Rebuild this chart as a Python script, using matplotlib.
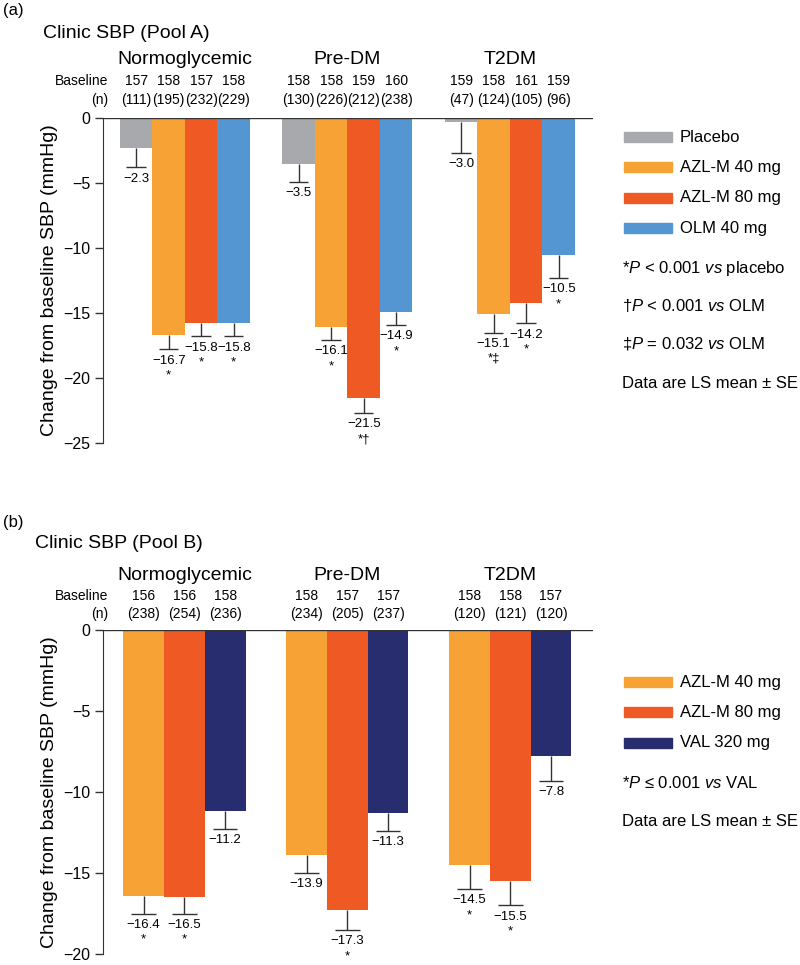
import numpy as np
import matplotlib
matplotlib.use('Agg')
import matplotlib.pyplot as plt
from matplotlib.patches import Rectangle
from matplotlib.transforms import blended_transform_factory

plt.rcParams['font.family'] = ['Liberation Sans', 'DejaVu Sans']
plt.rcParams['mathtext.fontset'] = 'custom'
plt.rcParams['mathtext.it'] = 'Liberation Sans:italic'
plt.rcParams['mathtext.rm'] = 'Liberation Sans'

# colours
gray_c = '#A7A9AC'
orange_c = '#F7A234'
red_c = '#EF5A24'
blue_c = '#5496D2'
navy_c = '#272D6E'
line_c = '#333333'

groups = ['Normoglycemic', 'Pre-DM', 'T2DM']

# Pool A
a_treatments = ['Placebo', 'AZL-M 40 mg', 'AZL-M 80 mg', 'OLM 40 mg']
a_colors = [gray_c, orange_c, red_c, blue_c]
a_means = [[-2.3, -16.7, -15.8, -15.8],
           [-3.5, -16.1, -21.5, -14.9],
           [-0.3, -15.1, -14.2, -10.5]]
a_value_labels = [['−2.3', '−16.7', '−15.8', '−15.8'],
                  ['−3.5', '−16.1', '−21.5', '−14.9'],
                  ['−3.0', '−15.1', '−14.2', '−10.5']]
a_se = [[1.5, 1.1, 1.0, 1.0],
        [1.4, 1.0, 1.2, 1.0],
        [2.4, 1.4, 1.6, 1.8]]
a_baseline = [[157, 158, 157, 158], [158, 158, 159, 160], [159, 158, 161, 159]]
a_n = [[111, 195, 232, 229], [130, 226, 212, 238], [47, 124, 105, 96]]
a_sig = [['', '*', '*', '*'], ['', '*', '*†', '*'], ['', '*‡', '*', '*']]
a_notes = [r'*$P$ < 0.001 $vs$ placebo', r'†$P$ < 0.001 $vs$ OLM',
           r'‡$P$ = 0.032 $vs$ OLM', 'Data are LS mean ± SE']

# Pool B
b_treatments = ['AZL-M 40 mg', 'AZL-M 80 mg', 'VAL 320 mg']
b_colors = [orange_c, red_c, navy_c]
b_means = [[-16.4, -16.5, -11.2],
           [-13.9, -17.3, -11.3],
           [-14.5, -15.5, -7.8]]
b_value_labels = [['−16.4', '−16.5', '−11.2'],
                  ['−13.9', '−17.3', '−11.3'],
                  ['−14.5', '−15.5', '−7.8']]
b_se = [[1.1, 1.0, 1.1],
        [1.1, 1.2, 1.1],
        [1.5, 1.5, 1.5]]
b_baseline = [[156, 156, 158], [158, 157, 157], [158, 158, 157]]
b_n = [[238, 254, 236], [234, 205, 237], [120, 121, 120]]
b_sig = [['*', '*', ''], ['', '*', ''], ['*', '*', '']]
b_notes = [r'*$P$ ≤ 0.001 $vs$ VAL', 'Data are LS mean ± SE']

W, H = 800, 965


def fx(px):
    return px / W


def fy(py):
    return 1 - py / H


def plot_panel(fig, lay, treatments, colors, means, labels, se, baseline, n, sig, notes):
    ax = fig.add_axes([fx(103), fy(lay['bottom']), fx(593) - fx(103),
                       (lay['bottom'] - lay['top']) / H])
    k = len(treatments)
    half_cap = 0.3
    for g in range(len(groups)):
        xs = g * (k + 1) + np.arange(k) + 0.5
        m = np.array(means[g])
        s = np.array(se[g])
        ax.bar(xs, m, width=1.0, color=colors, zorder=2)
        ax.vlines(xs, m, m - s, color=line_c, lw=1.0, zorder=3)
        ax.hlines(m - s, xs - half_cap, xs + half_cap, color=line_c, lw=1.0, zorder=3)
        for i in range(k):
            ax.annotate(labels[g][i], (xs[i], m[i] - s[i]), xytext=(0, -8),
                        textcoords='offset points', ha='center', va='center',
                        fontsize=9.5, annotation_clip=False)
            if sig[g][i]:
                ax.annotate(sig[g][i], (xs[i], m[i] - s[i]), xytext=(0, -19),
                            textcoords='offset points', ha='center', va='center',
                            fontsize=9.5, annotation_clip=False)
        trans = blended_transform_factory(ax.transData, fig.transFigure)
        ax.text(xs.mean(), fy(lay['group_y']), groups[g], transform=trans,
                ha='center', va='center', fontsize=14)
        for i in range(k):
            ax.text(xs[i], fy(lay['base_y']), str(baseline[g][i]), transform=trans,
                    ha='center', va='center', fontsize=10)
            ax.text(xs[i], fy(lay['n_y']), '(%d)' % n[g][i], transform=trans,
                    ha='center', va='center', fontsize=10)

    ax.axhline(0, color=line_c, lw=1.0, zorder=4)
    ax.set_xlim(lay['xlim'])
    ax.set_ylim(lay['ymin'], 0)
    ax.set_yticks(lay['yticks'])
    ax.set_yticklabels([str(t).replace('-', '−') for t in lay['yticks']], fontsize=11.5)
    ax.set_xticks([])
    for sp in ['top', 'right', 'bottom']:
        ax.spines[sp].set_visible(False)
    ax.spines['left'].set_bounds(lay['ymin'], 0)
    ax.spines['left'].set_color(line_c)
    ax.tick_params(axis='y', length=6, width=1.0, color=line_c, pad=3)
    ax.set_ylabel('Change from baseline SBP (mmHg)', fontsize=14)
    ax.yaxis.set_label_coords(-0.092, 0.5)

    fig.text(fx(3), fy(lay['tag_y']), lay['tag'], ha='left', va='center', fontsize=12)
    fig.text(fx(lay['title_x']), fy(lay['title_y']), lay['title'], ha='left',
             va='center', fontsize=14)
    fig.text(fx(108), fy(lay['base_y']), 'Baseline', ha='right', va='center', fontsize=10)
    fig.text(fx(108), fy(lay['n_y']), '(n)', ha='right', va='center', fontsize=10)

    # legend
    for i, t in enumerate(treatments):
        yc = lay['leg_y'] + i * 30.4
        fig.patches.append(Rectangle((fx(624), fy(yc + 5)), fx(672) - fx(624), 10 / H,
                                     transform=fig.transFigure, color=colors[i]))
        fig.text(fx(680), fy(yc), t, ha='left', va='center', fontsize=12)
    for t, yc in zip(notes, lay['note_y']):
        fig.text(fx(622), fy(yc), t, ha='left', va='center', fontsize=12)
    return ax


def main():
    fig = plt.figure(figsize=(8, 9.65), dpi=100)

    lay_a = dict(top=118, bottom=443, xlim=(-0.523, 14.554), ymin=-25,
                 yticks=[0, -5, -10, -15, -20, -25], tag='(a)', tag_y=11,
                 title='Clinic SBP (Pool A)', title_x=43, title_y=33, group_y=60,
                 base_y=81, n_y=100, leg_y=137, note_y=[269, 305, 344, 383])
    plot_panel(fig, lay_a, a_treatments, a_colors, a_means, a_value_labels, a_se,
               a_baseline, a_n, a_sig, a_notes)

    lay_b = dict(top=630, bottom=954, xlim=(-0.498, 11.53), ymin=-20,
                 yticks=[0, -5, -10, -15, -20], tag='(b)', tag_y=522,
                 title='Clinic SBP (Pool B)', title_x=35, title_y=544, group_y=575,
                 base_y=596, n_y=614, leg_y=682, note_y=[783, 821])
    plot_panel(fig, lay_b, b_treatments, b_colors, b_means, b_value_labels, b_se,
               b_baseline, b_n, b_sig, b_notes)

    fig.savefig('out.png', dpi=100, facecolor='white')


main()
